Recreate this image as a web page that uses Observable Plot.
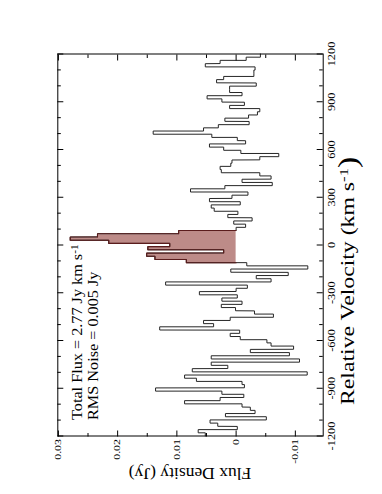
<!DOCTYPE html>
<html><head><meta charset="utf-8">
<script src="https://cdn.jsdelivr.net/npm/d3@7"></script>
<script src="https://cdn.jsdelivr.net/npm/@observablehq/plot@0.6"></script>
<style>
html,body{margin:0;padding:0;background:#fff;width:382px;height:494px;overflow:hidden}
#wrap{position:absolute;left:0;top:0;width:494px;height:382px;transform-origin:0 0;transform:translate(0px,494px) rotate(-90deg);}
</style></head><body><div id="wrap"></div>
<script>
// Spectrum channels (km/s), listed from high to low velocity
const velocity = [1190,1170,1150,1129,1109,1089,1069,1049,1029,1008,988,968,948,928,908,887,867,847,827,807,787,766,746,726,706,686,666,645,625,605,585,565,545,524,504,484,464,444,424,403,383,363,343,323,303,282,262,242,222,202,182,161,141,121,101,81,61,40,20,0,-20,-40,-61,-81,-101,-121,-141,-161,-182,-202,-222,-242,-262,-282,-303,-323,-343,-363,-383,-403,-424,-444,-464,-484,-504,-524,-545,-565,-585,-605,-625,-645,-666,-686,-706,-726,-746,-766,-787,-807,-827,-847,-867,-887,-908,-928,-948,-968,-988,-1008,-1029,-1049,-1069,-1089,-1109,-1129,-1150,-1170,-1190];
// Flux density (Jy) per channel, same order
const flux = [-0.0041,-0.0017,0.0027,0.0052,-0.0032,-0.0030,-0.0030,0.0021,0.0033,-0.0034,0.0011,0.0011,-0.0010,0.0049,0.0024,-0.0014,0.0011,-0.0040,-0.0036,-0.0021,0.0019,-0.0022,0.0030,0.0055,0.0140,0.0041,-0.0002,-0.0016,0.0045,0.0021,-0.0008,-0.0072,-0.0040,0.0007,0.0009,0.0027,0.0025,-0.0040,-0.0059,-0.0010,-0.0061,0.0019,0.0077,-0.0020,0.0007,0.0045,-0.0007,0.0042,0.0037,-0.0003,0.0014,-0.0027,0.0004,-0.0016,0.0000,
0.0097,0.0234,0.0280,0.0215,0.0112,0.0149,0.0021,0.0151,0.0137,0.0084,
-0.0018,-0.0121,0.0009,-0.0088,-0.0034,-0.0059,0.0119,-0.0019,0.0000,0.0062,-0.0002,0.0024,-0.0010,0.0025,0.0001,-0.0031,-0.0063,0.0010,0.0055,0.0038,0.0129,-0.0006,0.0010,-0.0007,-0.0052,-0.0059,-0.0097,-0.0024,-0.0090,0.0042,-0.0107,0.0042,0.0014,0.0074,-0.0120,0.0087,0.0067,-0.0010,-0.0014,0.0136,0.0024,-0.0013,0.0027,0.0087,-0.0010,-0.0024,-0.0032,0.0018,-0.0051,0.0044,0.0031,-0.0002,0.0064,0.0052];
const channelWidth = 20.17;
const lineWindow = [-111, 91]; // velocity range of the shaded emission line
const velocityTicks = [-1200,-900,-600,-300,0,300,600,900,1200];
const velocityTickLabels = ["-1200","-900","-600","-300","0","300","600","900","1200"];
const velocityMinorTicks = [-1100,-1000,-800,-700,-500,-400,-200,-100,100,200,400,500,700,800,1000,1100];
const fluxTicks = [-0.01,0,0.01,0.02,0.03];
const fluxTickLabels = ["-0.01","0","0.01","0.02","0.03"];
const fluxMinorTicks = [-0.005,0.005,0.015,0.025];
const annotations = ["Total Flux = 2.77 Jy km s", "RMS Noise = 0.005 Jy"];
const xLabel = "Relative Velocity (km s";
const yLabel = "Flux Density (Jy)";

const W = 494, H = 382;
const M = {left: 57.5, right: 54.5, top: 57.3, bottom: 59.3};
const FW = W - M.left - M.right, FH = H - M.top - M.bottom;
const half = channelWidth / 2;
const bins = velocity.map((v, i) => ({v, f: flux[i]}));
const steps = bins.flatMap(d => [{v: d.v + half, f: d.f}, {v: d.v - half, f: d.f}]);
const shaded = bins.filter(d => d.v > lineWindow[0] && d.v < lineWindow[1]);
const shadedOutline = [{v: shaded[0].v + half, f: 0},
  ...shaded.flatMap(d => [{v: d.v + half, f: d.f}, {v: d.v - half, f: d.f}]),
  {v: shaded[shaded.length - 1].v - half, f: 0}];
const MAJ = 6, MIN = 3.5;
const font = "'Liberation Serif','Times New Roman',serif";

const plot = Plot.plot({
  width: W, height: H,
  marginLeft: M.left, marginRight: M.right, marginTop: M.top, marginBottom: M.bottom,
  x: {domain: [-1200, 1200], axis: null},
  y: {domain: [-0.0147, 0.0301], axis: null},
  style: {background: "white", fontFamily: font, color: "black"},
  marks: [
    Plot.areaY(shadedOutline, {x: "v", y1: d => 0, y2: "f", fill: "#bd8b88"}),
    Plot.line(steps, {x: "v", y: "f", stroke: "#262626", strokeWidth: 1}),
    Plot.line(shadedOutline, {x: "v", y: "f", stroke: "#5a1c1c", strokeWidth: 1.1}),
    Plot.frame({stroke: "black", strokeWidth: 1}),
    Plot.ruleX(velocityTicks, {x: d => d, insetTop: FH - MAJ, stroke: "black"}),
    Plot.ruleX(velocityTicks, {x: d => d, insetBottom: FH - MAJ, stroke: "black"}),
    Plot.ruleX(velocityMinorTicks, {x: d => d, insetTop: FH - MIN, stroke: "black"}),
    Plot.ruleX(velocityMinorTicks, {x: d => d, insetBottom: FH - MIN, stroke: "black"}),
    Plot.ruleY(fluxTicks, {y: d => d, insetRight: FW - MAJ, stroke: "black"}),
    Plot.ruleY(fluxTicks, {y: d => d, insetLeft: FW - MAJ, stroke: "black"}),
    Plot.ruleY(fluxMinorTicks, {y: d => d, insetRight: FW - MIN, stroke: "black"}),
    Plot.ruleY(fluxMinorTicks, {y: d => d, insetLeft: FW - MIN, stroke: "black"}),
    Plot.text(velocityTicks, {x: d => d, frameAnchor: "bottom", lineAnchor: "top", dy: 5, text: (d, i) => velocityTickLabels[i], fontSize: 9.5, fill: "black"}),
    Plot.text(fluxTicks, {y: d => d, frameAnchor: "left", textAnchor: "end", dx: -3, text: (d, i) => fluxTickLabels[i], fontSize: 8.5, fill: "black"})
  ]
});
document.getElementById("wrap").appendChild(plot);

// stretch the tick labels along the horizontal, like the scanned original
const textGroups = plot.querySelectorAll('g[aria-label="text"]');
function stretch(el, s) {
  const L = el.getComputedTextLength();
  el.setAttribute("lengthAdjust", "spacingAndGlyphs");
  el.setAttribute("textLength", L * s);
}
textGroups[0].querySelectorAll("text").forEach(t => stretch(t, 1.3));
textGroups[1].querySelectorAll("text").forEach(t => stretch(t, 1.4));

const svg = d3.select(plot);
const g = svg.append("g").attr("font-family", font).attr("fill", "black").attr("text-anchor", "start");
function label(x, y, size, sx, str, sup, tail) {
  const t = g.append("g").attr("transform", `translate(${x},${y}) scale(${sx},1)`)
    .append("text").attr("x", 0).attr("y", 0).attr("font-size", size).attr("text-anchor", "start").text(str);
  if (sup) t.append("tspan").attr("dy", "-0.45em").attr("font-size", "0.7em").text(sup);
  if (tail) t.append("tspan").attr("dy", "0.315em").attr("font-size", "1.4286em").text(tail);
  return t;
}
label(M.left + 16.5, M.top + 25, 14.5, 1.12, annotations[0], "-1");
label(M.left + 16.5, M.top + 40.5, 14.5, 1.12, annotations[1]);
label(89, 354, 19, 1.25, xLabel, "-1", ")");
g.append("text").attr("transform", `translate(26.5,${M.top + FH / 2}) rotate(-90)`).attr("text-anchor", "middle").attr("font-size", 17.5).text(yLabel);
</script></body></html>
